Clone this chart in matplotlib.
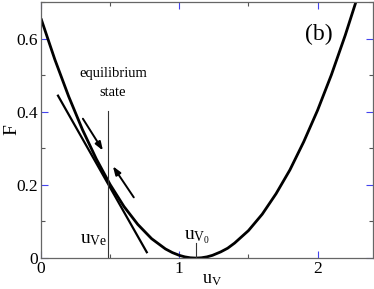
import matplotlib
matplotlib.use("Agg")
import matplotlib.pyplot as plt
from matplotlib.ticker import MultipleLocator

plt.rcParams['font.family'] = ['Liberation Serif', 'DejaVu Serif']
plt.rcParams['mathtext.fontset'] = 'custom'
plt.rcParams['mathtext.rm'] = 'Liberation Serif'
plt.rcParams['mathtext.it'] = 'Liberation Serif:italic'

# free-energy curve F(u_V)
u_vals = [0.0, 0.1, 0.2, 0.3, 0.4, 0.5, 0.6, 0.7, 0.8, 0.9, 0.95, 1.0, 1.04, 1.08, 1.12,
          1.16, 1.2, 1.24, 1.3, 1.35, 1.4, 1.5, 1.6, 1.7, 1.8, 1.9, 2.0, 2.1, 2.2, 2.3]
F_vals = [0.655, 0.543, 0.442, 0.351, 0.271, 0.201, 0.141, 0.092, 0.053, 0.025, 0.015,
          0.0075, 0.0033, 0.0008, 0.0, 0.0008, 0.0033, 0.0075, 0.017, 0.027, 0.041,
          0.075, 0.120, 0.176, 0.241, 0.318, 0.404, 0.501, 0.609, 0.727]

# tangent line at equilibrium
tan_u = [0.123, 0.765]
tan_F = [0.444, 0.016]

# equilibrium and minimum positions
u_ve = 0.484
F_ve_top = 0.403
u_v0 = 1.12
F_v0_top = 0.041

# arrows (start, end)
arrow1 = ((0.303, 0.381), (0.448, 0.294))
arrow2 = ((0.671, 0.166), (0.520, 0.251))

fig = plt.figure(figsize=(3.74, 2.89), dpi=100)
ax = fig.add_axes([0.1096, 0.107, 0.8874, 0.886])

ax.plot(u_vals, F_vals, color='black', lw=2.0, solid_capstyle='butt')
ax.plot(tan_u, tan_F, color='black', lw=1.6)
ax.plot([u_ve, u_ve], [0, F_ve_top], color='#333333', lw=0.8)
ax.plot([u_v0, u_v0], [0, F_v0_top], color='#333333', lw=0.8)

for (s, e) in (arrow1, arrow2):
    ax.annotate('', xy=e, xytext=s,
                arrowprops=dict(arrowstyle='-|>,head_length=0.5,head_width=0.18',
                                color='black', lw=1.4, shrinkA=0, shrinkB=0))

ax.text(0.52, 0.504, 'equilibrium', ha='center', va='center', fontsize=10.5)
ax.text(0.52, 0.452, 'state', ha='center', va='center', fontsize=10.5)
ax.text(0.478, 0.05, r'$\mathrm{u}_{\mathrm{Ve}}$', ha='right', va='center', fontsize=14)
ax.text(1.13, 0.058, r'$\mathrm{u}_{\mathrm{V}_0}$', ha='center', va='center', fontsize=14)
ax.text(2.01, 0.61, '(b)', ha='center', va='center', fontsize=17)

ax.set_xlim(0, 2.4)
ax.set_ylim(0, 0.7)
ax.xaxis.set_major_locator(MultipleLocator(1))
ax.xaxis.set_minor_locator(MultipleLocator(0.5))
ax.yaxis.set_major_locator(MultipleLocator(0.2))
ax.yaxis.set_minor_locator(MultipleLocator(0.1))
ax.xaxis.set_major_formatter(plt.FuncFormatter(lambda v, p: f'{v:g}'))
ax.yaxis.set_major_formatter(plt.FuncFormatter(lambda v, p: f'{v:g}'))

ax.tick_params(which='both', direction='in', top=True, right=True, labelsize=12.5)
ax.tick_params(which='major', length=5, width=0.8, color='#4444ee', pad=2)
ax.tick_params(which='minor', length=3, width=0.8, color='#555555')
for sp in ax.spines.values():
    sp.set_color('#666666')
    sp.set_linewidth(0.9)

ax.set_xlabel(r'$\mathrm{u}_{\mathrm{V}}$', fontsize=13)
ax.xaxis.set_label_coords(0.515, -0.052)
ax.set_ylabel('F', fontsize=14)
ax.yaxis.set_label_coords(-0.062, 0.5)

fig.savefig('out.png', dpi=100)
